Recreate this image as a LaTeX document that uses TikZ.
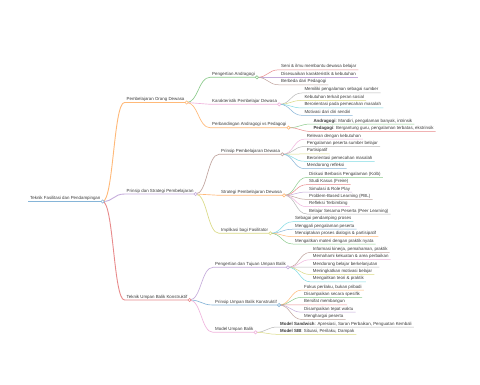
\documentclass[tikz,border=0pt]{standalone}
\usepackage{fontspec}
\setmainfont{Liberation Sans}
\usetikzlibrary{calc}
\definecolor{mBlu}{HTML}{86B5D8}
\definecolor{mOra}{HTML}{FFB978}
\definecolor{mGrn}{HTML}{8CCB8C}
\definecolor{mRed}{HTML}{E88A8B}
\definecolor{mPur}{HTML}{C5ACDB}
\definecolor{mBrn}{HTML}{C0A39D}
\definecolor{mPnk}{HTML}{F0B4DD}
\definecolor{mGry}{HTML}{B8B8B8}
\definecolor{mOlv}{HTML}{DADA84}
\definecolor{mCyn}{HTML}{80DBE4}
\definecolor{txt}{HTML}{3A3A3A}
% link from a parent's knob to a child, then on along the child's underline
\newcommand{\twig}[4]{\draw[#3,line width=#4] let \p1=(#1.south east),\p2=(#2.south west),\n1={(\x1+\x2)/2} in
  (\p1) .. controls (\n1,\y1) and (\n1,\y2) .. (\p2) -- (#2.south east);}
\newcommand{\knob}[2]{\draw[#2,fill=white,line width=0.6pt] (#1.south east) circle (1.6pt);}
\tikzset{
  mm/.style={anchor=south west,inner xsep=2pt,inner ysep=0.8pt,text height=3.2pt,text depth=1pt,
    font=\fontsize{4.4}{5}\selectfont,text=txt},
}
\begin{document}
\begin{tikzpicture}[x=1pt,y=-1pt]
\fill[white] (0,0) rectangle (480,384);
\useasboundingbox (0,0) rectangle (480,384);
% root and main branches
\node[mm] (r) at (28,201.5) {Teknik Fasilitasi dan Pendampingan};
\node[mm] (a) at (124.5,102.5) {Pembelajaran Orang Dewasa};
\node[mm] (b) at (124.5,194) {Prinsip dan Strategi Pembelajaran};
\node[mm] (c) at (124.5,300) {Teknik Umpan Balik Konstruktif};
% second level
\node[mm] (a1) at (210,77.3) {Pengertian Andragogi};
\node[mm] (a2) at (210,104.3) {Karakteristik Pembelajar Dewasa};
\node[mm] (a3) at (210,127.7) {Perbandingan Andragogi vs Pedagogi};
\node[mm] (b1) at (219,154.3) {Prinsip Pembelajaran Dewasa};
\node[mm] (b2) at (219,195.3) {Strategi Pembelajaran Dewasa};
\node[mm] (b3) at (219,233.3) {Implikasi bagi Fasilitator};
\node[mm] (c1) at (213,267.3) {Pengertian dan Tujuan Umpan Balik};
\node[mm] (c2) at (213,305) {Prinsip Umpan Balik Konstruktif};
\node[mm] (c3) at (213,332.3) {Model Umpan Balik};
% leaves
\node[mm] (a11) at (279,69.8) {Seni \& ilmu membantu dewasa belajar};
\node[mm] (a12) at (279,77.3) {Disesuaikan karakteristik \& kebutuhan};
\node[mm] (a13) at (279,84.8) {Berbeda dari Pedagogi};
\node[mm] (a21) at (302.3,92.9) {Memiliki pengalaman sebagai sumber};
\node[mm] (a22) at (302.3,100.4) {Kebutuhan terkait peran sosial};
\node[mm] (a23) at (302.3,107.9) {Berorientasi pada pemecahan masalah};
\node[mm] (a24) at (302.3,115.4) {Motivasi dari diri sendiri};
\node[mm] (a31) at (311.3,124) {\textbf{Andragogi}: Mandiri, pengalaman banyak, intrinsik};
\node[mm] (a32) at (311.3,131.4) {\textbf{Pedagogi}: Bergantung guru, pengalaman terbatas, ekstrinsik};
\node[mm] (b11) at (304.7,139.1) {Relevan dengan kebutuhan};
\node[mm] (b12) at (304.7,146.5) {Pengalaman peserta sumber belajar};
\node[mm] (b13) at (304.7,153.9) {Partisipatif};
\node[mm] (b14) at (304.7,161.3) {Berorientasi pemecahan masalah};
\node[mm] (b15) at (304.7,168.7) {Mendorong refleksi};
\node[mm] (b21) at (307,177.3) {Diskusi Berbasis Pengalaman (Kolb)};
\node[mm] (b22) at (307,184.65) {Studi Kasus (Freire)};
\node[mm] (b23) at (307,192) {Simulasi \& Role Play};
\node[mm] (b24) at (307,199.35) {Problem-Based Learning (PBL)};
\node[mm] (b25) at (307,206.7) {Refleksi Terbimbing};
\node[mm] (b26) at (307,214) {Belajar Sesama Peserta (Peer Learning)};
\node[mm] (b31) at (293,221.7) {Sebagai pendamping proses};
\node[mm] (b32) at (293,229.2) {Menggali pengalaman peserta};
\node[mm] (b33) at (293,236.6) {Menciptakan proses dialogis \& partisipatif};
\node[mm] (b34) at (293,244) {Mengaitkan materi dengan praktik nyata};
\node[mm] (c11) at (310.7,252.3) {Informasi kinerja, pemahaman, praktik};
\node[mm] (c12) at (310.7,259.7) {Memahami kekuatan \& area perbaikan};
\node[mm] (c13) at (310.7,267.1) {Mendorong belajar berkelanjutan};
\node[mm] (c14) at (310.7,274.5) {Meningkatkan motivasi belajar};
\node[mm] (c15) at (310.7,281.9) {Mengaitkan teori \& praktik};
\node[mm] (c21) at (302,290) {Fokus perilaku, bukan pribadi};
\node[mm] (c22) at (302,297.4) {Disampaikan secara spesifik};
\node[mm] (c23) at (302,304.8) {Bersifat membangun};
\node[mm] (c24) at (302,312.2) {Disampaikan tepat waktu};
\node[mm] (c25) at (302,319.5) {Menghargai peserta};
\node[mm] (c31) at (278,327) {\textbf{Model Sandwich}: Apresiasi, Saran Perbaikan, Penguatan Kembali};
\node[mm] (c32) at (278,334.3) {\textbf{Model SBI}: Situasi, Perilaku, Dampak};
% links
\draw[mBlu,line width=1.1pt] (r.south west) -- (r.south east);
\twig{r}{a}{mOra}{0.9pt} \twig{r}{b}{mPur}{0.9pt} \twig{r}{c}{mRed}{0.9pt}
\twig{a}{a1}{mGrn}{0.65pt} \twig{a}{a2}{mPnk}{0.65pt} \twig{a}{a3}{mOra}{0.65pt}
\twig{b}{b1}{mBrn}{0.65pt} \twig{b}{b2}{mOra}{0.65pt} \twig{b}{b3}{mOlv}{0.65pt}
\twig{c}{c1}{mPur}{0.65pt} \twig{c}{c2}{mBlu}{0.65pt} \twig{c}{c3}{mPnk}{0.65pt}
\twig{a1}{a11}{mRed}{0.5pt} \twig{a1}{a12}{mPur}{0.5pt} \twig{a1}{a13}{mBrn}{0.5pt}
\twig{a2}{a21}{mGry}{0.5pt} \twig{a2}{a22}{mOlv}{0.5pt} \twig{a2}{a23}{mCyn}{0.5pt} \twig{a2}{a24}{mBlu}{0.5pt}
\twig{a3}{a31}{mGrn}{0.5pt} \twig{a3}{a32}{mRed}{0.5pt}
\twig{b1}{b11}{mPnk}{0.5pt} \twig{b1}{b12}{mGry}{0.5pt} \twig{b1}{b13}{mOlv}{0.5pt} \twig{b1}{b14}{mCyn}{0.5pt} \twig{b1}{b15}{mBlu}{0.5pt}
\twig{b2}{b21}{mGrn}{0.5pt} \twig{b2}{b22}{mRed}{0.5pt} \twig{b2}{b23}{mPur}{0.5pt} \twig{b2}{b24}{mBrn}{0.5pt} \twig{b2}{b25}{mPnk}{0.5pt} \twig{b2}{b26}{mGry}{0.5pt}
\twig{b3}{b31}{mCyn}{0.5pt} \twig{b3}{b32}{mBlu}{0.5pt} \twig{b3}{b33}{mOra}{0.5pt} \twig{b3}{b34}{mGrn}{0.5pt}
\twig{c1}{c11}{mBrn}{0.5pt} \twig{c1}{c12}{mPnk}{0.5pt} \twig{c1}{c13}{mGry}{0.5pt} \twig{c1}{c14}{mOlv}{0.5pt} \twig{c1}{c15}{mCyn}{0.5pt}
\twig{c2}{c21}{mOra}{0.5pt} \twig{c2}{c22}{mGrn}{0.5pt} \twig{c2}{c23}{mRed}{0.5pt} \twig{c2}{c24}{mPur}{0.5pt} \twig{c2}{c25}{mBrn}{0.5pt}
\twig{c3}{c31}{mGry}{0.5pt} \twig{c3}{c32}{mOlv}{0.5pt}
% knobs on the branching nodes
\knob{r}{mBlu} \knob{a}{mOra} \knob{b}{mPur} \knob{c}{mRed}
\knob{a1}{mGrn} \knob{a2}{mPnk} \knob{a3}{mOra}
\knob{b1}{mBrn} \knob{b2}{mOra} \knob{b3}{mOlv}
\knob{c1}{mPur} \knob{c2}{mBlu} \knob{c3}{mPnk}
\end{tikzpicture}
\end{document}
